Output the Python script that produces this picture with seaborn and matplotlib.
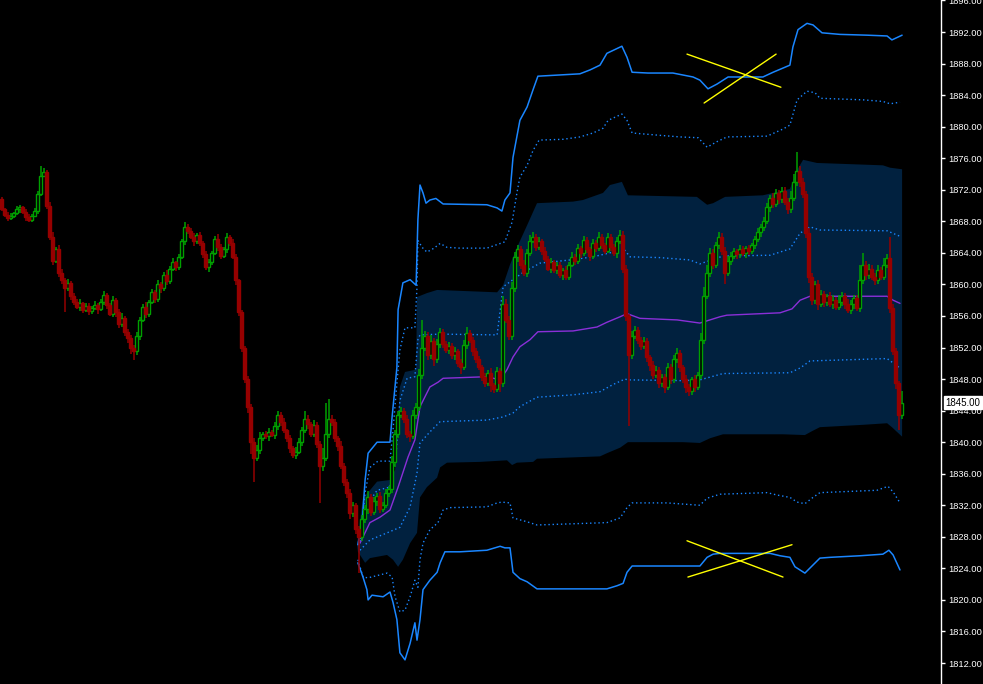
import numpy as np
import pandas as pd
import matplotlib
matplotlib.use("Agg")
import matplotlib.pyplot as plt
import matplotlib.transforms as mtransforms
import seaborn as sns

# Candle closes, one per bar (open = previous close)
first_open = 1870.8
closes = [
    1869.5, 1868.8, 1868.4, 1868.7, 1869.0, 1869.5, 1869.8, 1869.2, 1868.6, 1868.2,
    1868.7, 1869.3, 1871.5, 1873.8, 1874.2, 1870.0, 1866.0, 1863.0, 1864.5, 1861.5,
    1860.5, 1859.5, 1860.2, 1858.5, 1857.8, 1857.2, 1857.6, 1856.8, 1857.3, 1856.6,
    1857.0, 1857.4, 1856.9, 1857.8, 1858.6, 1857.4, 1856.3, 1858.0, 1856.5, 1855.0,
    1855.8, 1854.0, 1853.2, 1852.0, 1851.5, 1853.5, 1855.5, 1857.2, 1856.3, 1857.8,
    1859.0, 1858.2, 1860.0, 1859.5, 1861.2, 1860.4, 1862.0, 1862.8, 1862.2, 1863.5,
    1865.5, 1867.3, 1866.8, 1866.0, 1865.5, 1866.3, 1865.2, 1863.8, 1862.2, 1862.8,
    1864.0, 1865.8, 1864.8, 1863.6, 1864.5, 1866.0, 1865.3, 1863.5, 1860.5, 1856.5,
    1852.0, 1848.0, 1844.5, 1840.0, 1838.0, 1839.0, 1840.5, 1841.0, 1840.8, 1841.3,
    1840.9, 1842.0, 1843.5, 1842.6, 1841.5, 1840.5, 1839.2, 1838.4, 1838.8, 1840.0,
    1841.5, 1843.0, 1842.3, 1841.0, 1842.2, 1839.8, 1837.0, 1838.0, 1841.0, 1843.0,
    1842.5, 1840.5, 1839.5, 1837.0, 1835.0, 1833.5, 1831.0, 1832.0, 1829.0, 1828.0,
    1830.2, 1831.5, 1833.0, 1831.2, 1832.5, 1833.2, 1831.5, 1832.0, 1833.5, 1834.0,
    1837.5, 1841.0, 1843.5, 1844.0, 1843.0, 1841.0, 1840.8, 1843.5, 1844.5, 1848.5,
    1852.0, 1853.5, 1851.0, 1852.8, 1850.5, 1852.5, 1854.0, 1852.5, 1851.7, 1852.2,
    1851.0, 1851.5, 1850.0, 1849.5, 1852.3, 1853.8, 1853.0, 1851.5, 1850.5, 1849.5,
    1848.3, 1847.5, 1848.8, 1847.2, 1846.8, 1849.0, 1847.5, 1857.5, 1855.5, 1853.5,
    1859.5, 1863.5, 1864.5, 1862.5, 1861.5, 1864.0, 1865.5, 1866.0, 1864.8, 1865.5,
    1864.2, 1863.2, 1862.0, 1862.8, 1861.8, 1862.4, 1861.2, 1861.8, 1861.0, 1862.5,
    1863.5, 1863.0, 1864.6, 1864.0, 1865.6, 1864.5, 1863.6, 1865.2, 1864.6, 1866.0,
    1865.0, 1864.3, 1866.0, 1864.8, 1864.0, 1865.5, 1866.3, 1862.0, 1856.0, 1851.0,
    1853.5, 1854.2, 1853.0, 1852.2, 1852.8, 1850.8, 1849.8, 1848.5, 1849.2, 1847.5,
    1848.2, 1847.0, 1849.5, 1848.0, 1850.5, 1851.3, 1849.5, 1848.0, 1847.0, 1846.5,
    1848.0, 1847.0, 1848.5, 1853.0, 1858.5, 1861.5, 1864.0, 1862.5, 1865.0, 1866.0,
    1864.3, 1861.5, 1863.0, 1863.6, 1864.2, 1863.8, 1864.5, 1864.0, 1864.6, 1864.2,
    1865.0, 1865.8, 1866.6, 1867.3, 1868.0, 1869.8, 1871.0, 1870.2, 1871.6, 1870.8,
    1871.8, 1870.5, 1869.5, 1871.0, 1873.0, 1874.4, 1873.0, 1871.5, 1866.5, 1861.0,
    1858.0, 1860.0, 1857.5, 1858.8, 1857.8, 1858.5, 1857.5, 1858.0, 1857.2, 1857.8,
    1858.5, 1857.5, 1856.8, 1857.5, 1858.3, 1857.0, 1860.5, 1862.5, 1861.2, 1862.0,
    1861.0, 1860.5, 1861.8, 1861.0, 1862.5, 1863.3, 1857.0, 1851.5, 1847.5, 1843.5,
    1845.0,
]

# wick lengths above / below the body, in tenths of a point
wick_up = [
    3, 2, 4, 3, 2, 5, 3, 2, 4, 3,
    2, 4, 3, 12, 5, 3, 4, 6, 3, 5,
    4, 3, 5, 2, 4, 3, 6, 2, 3, 4,
    3, 5, 2, 4, 6, 3, 2, 5, 3, 4,
    6, 2, 3, 4, 3, 5, 4, 3, 6, 2,
    4, 3, 5, 3, 4, 6, 3, 5, 2, 4,
    3, 6, 4, 3, 5, 2, 4, 3, 5, 4,
    3, 4, 6, 3, 2, 5, 3, 4, 3, 2,
    3, 2, 4, 3, 5, 6, 8, 3, 4, 5,
    3, 6, 4, 3, 5, 2, 4, 3, 6, 5,
    4, 9, 5, 3, 6, 4, 3, 12, 40, 25,
    5, 4, 3, 6, 4, 3, 5, 4, 3, 4,
    6, 5, 8, 4, 6, 3, 5, 4, 6, 5,
    8, 6, 5, 4, 3, 5, 4, 6, 5, 8,
    35, 6, 5, 8, 4, 6, 5, 4, 3, 5,
    4, 6, 3, 5, 6, 8, 4, 3, 5, 4,
    3, 5, 4, 6, 3, 5, 4, 10, 6, 5,
    8, 6, 5, 4, 6, 5, 8, 6, 4, 5,
    3, 5, 4, 6, 3, 5, 4, 3, 5, 4,
    6, 4, 5, 3, 6, 4, 3, 5, 4, 6,
    4, 3, 5, 4, 3, 5, 6, 5, 4, 3,
    6, 5, 4, 3, 5, 4, 3, 5, 4, 3,
    5, 4, 6, 4, 5, 6, 4, 3, 5, 4,
    3, 5, 4, 8, 12, 10, 6, 5, 4, 6,
    5, 4, 6, 5, 4, 3, 5, 4, 3, 4,
    3, 4, 5, 4, 6, 5, 4, 6, 5, 4,
    6, 5, 4, 8, 10, 24, 6, 5, 4, 6,
    5, 4, 6, 5, 4, 3, 5, 6, 4, 8,
    5, 4, 6, 5, 4, 3, 20, 15, 5, 6,
    4, 5, 6, 4, 8, 6, 27, 5, 4, 3,
    15,
]
wick_dn = [
    2, 3, 4, 2, 3, 2, 4, 3, 5, 3,
    3, 2, 4, 3, 2, 5, 4, 6, 3, 5,
    4, 30, 3, 5, 4, 3, 6, 4, 3, 5,
    4, 3, 6, 3, 4, 5, 3, 4, 6, 5,
    4, 5, 6, 8, 11, 4, 5, 3, 6, 4,
    3, 5, 4, 6, 3, 5, 4, 3, 5, 4,
    3, 5, 4, 3, 6, 4, 3, 5, 4, 6,
    4, 3, 5, 4, 3, 5, 4, 3, 6, 5,
    6, 5, 8, 15, 30, 4, 5, 3, 4, 6,
    3, 5, 4, 6, 3, 5, 6, 4, 5, 3,
    5, 4, 6, 4, 3, 5, 47, 6, 4, 5,
    4, 5, 6, 4, 5, 6, 8, 5, 6, 46,
    5, 4, 6, 5, 4, 6, 5, 4, 3, 5,
    4, 6, 5, 4, 6, 5, 8, 4, 5, 6,
    5, 4, 6, 5, 8, 4, 5, 6, 4, 5,
    4, 6, 5, 8, 4, 5, 4, 6, 5, 4,
    6, 5, 4, 8, 6, 5, 12, 5, 4, 6,
    5, 4, 6, 5, 4, 5, 4, 3, 5, 4,
    5, 4, 3, 6, 4, 5, 4, 6, 5, 4,
    3, 5, 4, 6, 4, 5, 6, 4, 5, 4,
    5, 4, 3, 5, 4, 6, 4, 5, 6, 90,
    5, 4, 6, 5, 4, 6, 8, 5, 4, 6,
    5, 8, 4, 6, 5, 4, 6, 5, 8, 6,
    5, 6, 4, 5, 6, 4, 5, 6, 4, 5,
    6, 15, 4, 5, 4, 6, 5, 4, 6, 5,
    4, 5, 4, 6, 5, 4, 6, 5, 4, 6,
    5, 4, 6, 5, 4, 5, 6, 5, 6, 8,
    6, 5, 8, 4, 6, 5, 4, 6, 5, 4,
    5, 6, 4, 5, 6, 4, 5, 4, 6, 5,
    4, 6, 5, 4, 5, 4, 6, 5, 8, 20,
    5,
]

# Bands: (bar number, price)
band3_up_bars = [118.8, 120.2, 121.2, 122.2, 125.2, 129.5, 130.2, 131.8, 132.2, 133.8, 136.2, 138.2, 138.8,
                 139.5, 140.5, 141.5, 142.8, 144.8, 147.2, 161.8, 165.2, 166.8, 167.8, 169.5, 170.5, 172.8,
                 175.2, 177.2, 178.8, 192.8, 196.2, 199.5, 201.8, 206.8, 208.5, 210.2, 215.5, 223.8, 230.5,
                 232.8, 235.5, 238.5, 242.2, 253.8, 257.2, 262.8, 263.8, 265.5, 268.5, 270.5, 273.5, 279.5,
                 288.5, 295.2, 296.8, 300.2]
band3_up = [1827.0, 1829.8, 1835.2, 1838.6, 1840.0, 1840.0, 1843.2, 1849.5, 1856.8, 1860.2, 1860.6, 1859.9, 1868.2,
            1872.6, 1871.6, 1870.3, 1870.7, 1870.9, 1870.2, 1870.1, 1869.7, 1869.3, 1870.7, 1871.6, 1876.1, 1880.8,
            1882.5, 1884.7, 1886.4, 1886.7, 1887.2, 1887.8, 1889.3, 1890.2, 1888.8, 1886.9, 1886.8, 1886.8, 1886.3,
            1885.9, 1884.8, 1885.4, 1886.3, 1886.3, 1886.9, 1887.8, 1890.1, 1892.3, 1893.1, 1892.9, 1891.9, 1891.7,
            1891.6, 1891.5, 1891.0, 1891.6]

band2_up_bars = [118.8, 119.5, 121.2, 122.8, 125.5, 129.5, 130.5, 131.8, 132.8, 134.5, 137.8, 138.5, 138.8,
                 140.2, 141.8, 144.2, 146.2, 148.5, 152.8, 161.8, 167.8, 170.2, 171.8, 172.8, 175.2, 177.2,
                 179.2, 187.2, 192.8, 197.2, 200.5, 202.2, 206.8, 208.5, 210.2, 219.5, 226.2, 232.2, 235.2,
                 238.5, 241.8, 255.2, 260.5, 262.8, 265.2, 268.5, 271.2, 272.8, 287.2, 293.8, 296.2, 299.5]
band2_up = [1827.0, 1827.2, 1833.6, 1836.8, 1837.6, 1837.6, 1841.5, 1847.5, 1851.7, 1854.5, 1854.5, 1859.7, 1865.6,
            1864.7, 1864.1, 1864.6, 1865.2, 1864.7, 1864.6, 1864.6, 1865.4, 1867.9, 1871.6, 1873.6, 1875.1, 1877.0,
            1878.3, 1878.4, 1878.7, 1879.2, 1879.8, 1880.8, 1881.6, 1880.8, 1879.2, 1878.9, 1878.7, 1878.6, 1877.4,
            1878.1, 1878.7, 1878.8, 1879.7, 1880.2, 1883.4, 1884.5, 1884.3, 1883.6, 1883.4, 1883.2, 1882.9, 1883.1]

band1_up_bars = [119.5, 121.8, 125.2, 129.5, 131.5, 132.8, 135.2, 137.8, 138.8, 139.5, 146.2, 165.2, 167.2,
                 173.8, 179.5, 189.5, 197.2, 202.8, 207.2, 209.5, 219.5, 229.5, 232.8, 240.5, 256.2, 262.8,
                 266.2, 269.5, 272.8, 295.2, 299.5]
band1_up = [1827.2, 1832.0, 1833.9, 1834.3, 1838.4, 1845.3, 1848.1, 1848.3, 1853.0, 1853.6, 1853.7, 1853.6, 1859.7,
            1861.5, 1862.7, 1863.1, 1863.5, 1864.0, 1864.6, 1863.5, 1863.4, 1863.1, 1862.6, 1863.6, 1863.7, 1864.5,
            1866.5, 1867.3, 1866.9, 1866.8, 1866.1]

vwap_bars = [119.5, 122.8, 126.2, 129.5, 132.2, 135.5, 137.8, 139.5, 142.8, 145.5, 147.2, 161.8, 166.2, 168.5,
             170.5, 172.8, 176.2, 178.8, 190.5, 198.5, 201.8, 206.2, 208.5, 212.8, 225.2, 232.8, 239.5, 241.8,
             259.5, 263.5, 266.2, 269.5, 295.2, 297.2, 299.5]
vwap = [1827.2, 1829.8, 1830.5, 1831.4, 1834.3, 1838.1, 1840.3, 1844.5, 1847.0, 1847.6, 1848.1, 1848.3, 1847.9,
        1849.2, 1850.8, 1852.1, 1853.0, 1854.0, 1854.1, 1854.6, 1855.2, 1855.9, 1856.3, 1855.7, 1855.5, 1855.1,
        1855.9, 1856.1, 1856.4, 1856.9, 1858.0, 1858.5, 1858.5, 1858.0, 1857.6]

band1_dn_bars = [119.5, 122.8, 128.5, 132.8, 136.2, 138.5, 139.5, 142.8, 146.2, 161.8, 167.2, 170.5, 172.8,
                 178.5, 190.5, 199.5, 203.8, 207.8, 208.8, 227.2, 232.8, 240.5, 262.8, 266.2, 269.5, 295.2, 299.5]
band1_dn = [1826.3, 1827.6, 1828.5, 1829.2, 1831.8, 1836.1, 1839.9, 1841.3, 1842.6, 1842.8, 1843.2, 1843.7, 1844.5,
            1845.7, 1846.0, 1846.4, 1847.3, 1848.0, 1847.9, 1847.8, 1847.9, 1848.7, 1848.8, 1849.4, 1850.3, 1850.6,
            1849.4]

band2_dn_bars = [118.8, 120.5, 122.2, 128.5, 130.2, 131.2, 132.8, 134.5, 136.2, 137.8, 138.8, 139.5, 140.5,
                 142.8, 145.5, 147.2, 149.5, 161.8, 165.2, 166.8, 169.5, 170.5, 175.2, 178.5, 201.8, 206.2,
                 208.5, 210.2, 221.8, 232.8, 235.2, 239.5, 255.2, 258.5, 262.8, 265.2, 267.8, 270.5, 272.8,
                 291.8, 295.5, 297.2, 299.5]
band2_dn = [1825.1, 1822.9, 1822.8, 1823.4, 1822.9, 1820.4, 1818.5, 1818.7, 1820.4, 1822.5, 1821.6, 1825.1, 1827.2,
            1828.9, 1829.8, 1831.4, 1831.7, 1831.8, 1832.3, 1832.4, 1832.3, 1830.4, 1829.9, 1829.5, 1829.8, 1830.4,
            1831.7, 1832.3, 1832.3, 1832.0, 1832.9, 1833.4, 1833.6, 1833.3, 1833.0, 1832.4, 1832.2, 1833.0, 1833.6,
            1833.9, 1834.4, 1833.7, 1832.3]

band3_dn_bars = [118.8, 120.5, 121.8, 122.2, 123.5, 127.2, 129.5, 130.5, 131.8, 132.8, 134.5, 136.2, 137.8,
                 138.5, 139.5, 140.5, 142.8, 145.2, 146.2, 147.8, 152.8, 161.8, 166.2, 167.8, 169.5, 170.5,
                 172.8, 175.2, 178.5, 201.8, 205.2, 207.2, 208.5, 210.2, 232.8, 235.2, 237.2, 239.5, 256.2,
                 259.5, 262.8, 264.5, 267.8, 272.8, 276.2, 286.2, 293.8, 295.8, 297.2, 299.5]
band3_dn = [1824.7, 1822.9, 1821.3, 1820.0, 1820.6, 1820.4, 1821.0, 1819.7, 1817.5, 1813.3, 1812.4, 1814.5, 1817.1,
            1814.9, 1817.5, 1821.3, 1822.5, 1823.5, 1824.7, 1826.1, 1826.1, 1826.3, 1826.8, 1826.6, 1826.6, 1823.5,
            1822.7, 1822.3, 1821.4, 1821.4, 1821.8, 1822.1, 1823.5, 1824.3, 1824.3, 1825.4, 1825.8, 1825.9, 1825.9,
            1825.6, 1825.4, 1824.2, 1823.4, 1825.3, 1825.4, 1825.6, 1825.8, 1826.3, 1825.7, 1823.8]

# shaded band edges
shade_up_bars = [118.5, 119.5, 120.5, 122.8, 125.2, 129.5, 131.2, 132.2, 132.8, 134.5, 138.2, 138.5, 141.8,
                 145.2, 165.2, 167.2, 169.5, 172.2, 175.2, 177.2, 178.5, 190.5, 193.8, 200.5, 202.8, 206.8,
                 208.8, 231.8, 235.2, 237.2, 241.2, 253.8, 262.8, 265.2, 267.2, 271.8, 293.8, 296.2, 300.2]
shade_up = [1827.0, 1830.1, 1833.0, 1833.9, 1835.0, 1835.2, 1836.5, 1842.8, 1847.0, 1848.9, 1849.2, 1858.4, 1858.9,
            1859.3, 1859.0, 1859.9, 1862.5, 1865.0, 1867.5, 1869.2, 1870.3, 1870.5, 1870.7, 1871.6, 1872.6, 1873.0,
            1871.3, 1871.1, 1870.1, 1870.3, 1871.1, 1871.3, 1872.1, 1874.5, 1875.8, 1875.4, 1875.1, 1874.8, 1874.6]
shade_dn_bars = [118.5, 118.8, 120.2, 121.2, 122.8, 128.5, 130.5, 132.2, 133.8, 136.2, 138.5, 139.5, 141.8,
                 145.2, 146.2, 148.5, 159.5, 168.5, 170.2, 171.8, 177.2, 178.5, 199.5, 201.8, 206.2, 208.8,
                 227.2, 232.8, 236.2, 240.5, 260.5, 267.8, 270.2, 272.8, 287.2, 295.2, 296.8, 298.5, 300.2]
shade_dn = [1827.0, 1826.1, 1825.3, 1824.7, 1825.3, 1825.7, 1825.1, 1824.2, 1825.1, 1827.2, 1828.5, 1833.0, 1834.3,
            1835.5, 1836.8, 1837.4, 1837.5, 1837.7, 1837.1, 1837.4, 1837.5, 1837.9, 1838.2, 1838.6, 1839.3, 1840.0,
            1840.0, 1839.9, 1840.5, 1841.0, 1841.0, 1840.9, 1841.4, 1841.9, 1842.2, 1842.4, 1841.9, 1841.3, 1840.7]

# yellow crosses drawn on the chart
cross_lines = [
    ([228.5, 259.8], [1889.2, 1885.0]),
    ([234.2, 258.2], [1883.0, 1889.2]),
    ([228.5, 260.5], [1827.5, 1822.9]),
    ([228.8, 263.5], [1822.9, 1827.0]),
]

last_price = closes[-1]

# Build OHLC table
df = pd.DataFrame({"close": closes})
df["open"] = [first_open] + closes[:-1]
df["bar"] = np.arange(len(df))
df["high"] = df[["open", "close"]].max(axis=1) + np.array(wick_up) / 10
df["low"] = df[["open", "close"]].min(axis=1) - np.array(wick_dn) / 10
df["bull"] = df["close"] >= df["open"]

sns.set_style("dark", {"axes.facecolor": "black", "figure.facecolor": "black",
                       "axes.grid": False, "axes.edgecolor": "white"})
plt.rcParams["font.family"] = ["Liberation Sans", "DejaVu Sans"]

GREEN = "#00a000"
RED = "#960000"
BLUE = "#1a86ff"
SHADE = "#01213f"
PURPLE = "#8a2fd8"

fig = plt.figure(figsize=(9.83, 6.84), dpi=100)
ax = fig.add_axes([0, 0, 941 / 983, 1])
ax.set_facecolor("black")

# shaded band
ax.fill(np.r_[shade_up_bars, shade_dn_bars[::-1]], np.r_[shade_up, shade_dn[::-1]],
        color=SHADE, lw=0, zorder=1)

dotted = (0, (1, 2))
sns.lineplot(x=band3_up_bars, y=band3_up, ax=ax, color=BLUE, lw=1.1, sort=False, estimator=None, zorder=2)
sns.lineplot(x=band2_up_bars, y=band2_up, ax=ax, color=BLUE, lw=1.0, linestyle=dotted, sort=False, estimator=None, zorder=2)
sns.lineplot(x=band1_up_bars, y=band1_up, ax=ax, color=BLUE, lw=1.0, linestyle=dotted, sort=False, estimator=None, zorder=2)
sns.lineplot(x=vwap_bars, y=vwap, ax=ax, color=PURPLE, lw=1.0, sort=False, estimator=None, zorder=2)
sns.lineplot(x=band1_dn_bars, y=band1_dn, ax=ax, color=BLUE, lw=1.0, linestyle=dotted, sort=False, estimator=None, zorder=2)
sns.lineplot(x=band2_dn_bars, y=band2_dn, ax=ax, color=BLUE, lw=1.0, linestyle=dotted, sort=False, estimator=None, zorder=2)
sns.lineplot(x=band3_dn_bars, y=band3_dn, ax=ax, color=BLUE, lw=1.1, sort=False, estimator=None, zorder=2)

# candles
wick_colors = np.where(df["bull"], GREEN, RED)
ax.vlines(df["bar"], df["low"], df["high"], colors=wick_colors, lw=1.1, zorder=3)
bodies = (df["close"] - df["open"]).abs().clip(lower=0.15)
bottoms = df[["open", "close"]].min(axis=1)
bull = df["bull"].values
ax.bar(df["bar"][bull], bodies[bull], bottom=bottoms[bull], width=0.9,
       facecolor="black", edgecolor=GREEN, lw=1.0, zorder=4)
ax.bar(df["bar"][~bull], bodies[~bull], bottom=bottoms[~bull], width=0.9,
       facecolor=RED, edgecolor=RED, lw=1.0, zorder=4)

for xs, ys in cross_lines:
    ax.plot(xs, ys, color="#ffff00", lw=1.0, zorder=5)

# axes
ax.set_xlim(-0.5, 941 / 3 - 0.5)
ax.set_ylim(1809.34, 1896.06)
ax.set_xticks([])
ax.yaxis.tick_right()
ax.set_yticks(np.arange(1812, 1897, 4))
ax.yaxis.set_major_formatter(matplotlib.ticker.FormatStrFormatter("%.2f"))
ax.tick_params(axis="y", colors="white", labelcolor="white", length=3, width=1,
               labelsize=6.7, pad=2, direction="out")
for side in ["top", "left", "bottom"]:
    ax.spines[side].set_visible(False)
ax.spines["right"].set_color("white")
ax.spines["right"].set_linewidth(1.0)

trans = mtransforms.blended_transform_factory(ax.transAxes, ax.transData)
ax.text(1.0045, last_price, f"{last_price:.2f}", transform=trans, ha="left", va="center",
        color="black", fontsize=7.0, clip_on=False, zorder=10,
        bbox=dict(facecolor="white", edgecolor="white", boxstyle="square,pad=0.15"))

plt.savefig("out.png", dpi=100, facecolor="black")
